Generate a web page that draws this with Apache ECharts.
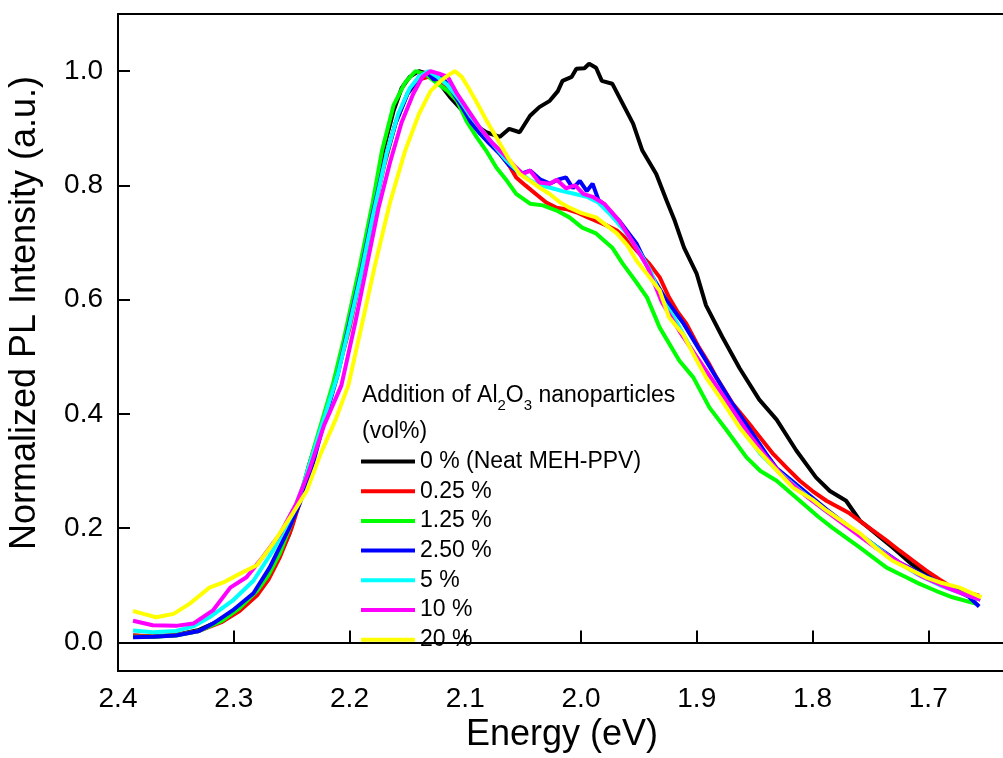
<!DOCTYPE html>
<html>
<head>
<meta charset="utf-8">
<script src="https://cdn.jsdelivr.net/npm/echarts@6/dist/echarts.min.js"></script>
<style>
html,body{margin:0;padding:0;background:#fff;}
#chart{width:1003px;height:758px;}
</style>
</head>
<body>
<div id="chart"></div>
<script>
// ---- data: [energy (eV), normalized PL intensity] ----
const seriesNames = ['0 % (Neat MEH-PPV)', '0.25 %', '1.25 %', '2.50 %', '5 %', '10 %', '20 %'];
const seriesColors = ['#000000', '#ff0000', '#00ff00', '#0000ff', '#00ffff', '#ff00ff', '#ffff00'];

const pl_0 = [[2.387,0.012],[2.37,0.010],[2.35,0.013],[2.33,0.022],[2.31,0.04],[2.30,0.055],[2.289,0.07],[2.28,0.088],[2.272,0.11],[2.262,0.145],[2.252,0.19],[2.243,0.25],[2.235,0.31],[2.225,0.375],[2.214,0.45],[2.205,0.52],[2.198,0.59],[2.19,0.66],[2.18,0.76],[2.171,0.86],[2.162,0.93],[2.155,0.97],[2.148,0.99],[2.14,1.0],[2.132,0.995],[2.122,0.978],[2.113,0.954],[2.102,0.93],[2.093,0.908],[2.082,0.893],[2.07,0.885],[2.062,0.899],[2.053,0.893],[2.044,0.922],[2.036,0.937],[2.027,0.948],[2.02,0.965],[2.016,0.983],[2.008,0.99],[2.004,1.004],[1.997,1.005],[1.993,1.013],[1.987,1.006],[1.982,0.983],[1.973,0.978],[1.964,0.943],[1.955,0.908],[1.947,0.861],[1.935,0.82],[1.926,0.773],[1.919,0.738],[1.911,0.691],[1.9,0.645],[1.892,0.59],[1.878,0.535],[1.863,0.48],[1.846,0.425],[1.831,0.39],[1.814,0.336],[1.797,0.289],[1.785,0.265],[1.771,0.248],[1.759,0.213],[1.745,0.19],[1.73,0.165],[1.715,0.138],[1.7,0.118],[1.685,0.1],[1.67,0.086],[1.655,0.075]];

const pl_025 = [[2.387,0.012],[2.37,0.011],[2.35,0.013],[2.33,0.02],[2.31,0.036],[2.295,0.055],[2.28,0.082],[2.27,0.11],[2.26,0.15],[2.25,0.2],[2.24,0.265],[2.228,0.345],[2.214,0.445],[2.2,0.55],[2.19,0.645],[2.18,0.745],[2.17,0.835],[2.16,0.91],[2.15,0.96],[2.14,0.985],[2.132,0.99],[2.125,0.985],[2.117,0.97],[2.108,0.95],[2.1,0.93],[2.09,0.905],[2.08,0.88],[2.07,0.855],[2.062,0.835],[2.056,0.814],[2.048,0.8],[2.039,0.785],[2.03,0.77],[2.021,0.761],[2.012,0.758],[2.004,0.753],[1.995,0.745],[1.987,0.738],[1.978,0.73],[1.969,0.721],[1.96,0.705],[1.952,0.686],[1.941,0.663],[1.932,0.639],[1.924,0.604],[1.917,0.58],[1.909,0.558],[1.898,0.516],[1.89,0.49],[1.883,0.464],[1.869,0.418],[1.852,0.376],[1.834,0.33],[1.822,0.305],[1.811,0.283],[1.8,0.265],[1.788,0.248],[1.768,0.226],[1.748,0.196],[1.737,0.18],[1.725,0.161],[1.713,0.143],[1.702,0.126],[1.69,0.11],[1.679,0.096],[1.667,0.088],[1.656,0.082]];

const pl_125 = [[2.387,0.01],[2.37,0.01],[2.35,0.012],[2.33,0.02],[2.31,0.038],[2.295,0.06],[2.28,0.09],[2.27,0.118],[2.26,0.157],[2.25,0.21],[2.24,0.275],[2.23,0.345],[2.214,0.455],[2.205,0.53],[2.191,0.66],[2.18,0.77],[2.172,0.86],[2.162,0.94],[2.152,0.98],[2.143,1.0],[2.135,0.995],[2.125,0.98],[2.115,0.965],[2.107,0.948],[2.099,0.913],[2.09,0.884],[2.082,0.861],[2.073,0.831],[2.064,0.808],[2.056,0.785],[2.044,0.768],[2.033,0.765],[2.021,0.756],[2.01,0.744],[1.999,0.726],[1.987,0.716],[1.973,0.691],[1.964,0.663],[1.952,0.63],[1.943,0.604],[1.932,0.551],[1.915,0.493],[1.903,0.464],[1.889,0.411],[1.874,0.371],[1.857,0.324],[1.845,0.3],[1.831,0.283],[1.811,0.248],[1.795,0.22],[1.783,0.201],[1.759,0.166],[1.736,0.131],[1.72,0.115],[1.708,0.103],[1.693,0.09],[1.679,0.079],[1.659,0.068]];

const pl_250 = [[2.387,0.009],[2.37,0.01],[2.35,0.012],[2.33,0.02],[2.318,0.033],[2.301,0.056],[2.283,0.086],[2.269,0.131],[2.252,0.201],[2.243,0.243],[2.232,0.31],[2.22,0.4],[2.21,0.47],[2.2,0.56],[2.19,0.65],[2.18,0.75],[2.17,0.84],[2.16,0.91],[2.15,0.96],[2.14,0.99],[2.133,0.998],[2.127,0.985],[2.12,0.99],[2.113,0.97],[2.105,0.945],[2.095,0.91],[2.087,0.89],[2.08,0.875],[2.07,0.855],[2.062,0.835],[2.052,0.82],[2.044,0.826],[2.035,0.81],[2.027,0.803],[2.02,0.81],[2.013,0.814],[2.007,0.795],[2.001,0.808],[1.995,0.79],[1.99,0.803],[1.985,0.775],[1.981,0.768],[1.967,0.738],[1.952,0.698],[1.938,0.639],[1.926,0.598],[1.912,0.56],[1.9,0.52],[1.885,0.47],[1.87,0.42],[1.855,0.375],[1.84,0.33],[1.831,0.305],[1.81,0.27],[1.788,0.233],[1.77,0.205],[1.745,0.168],[1.725,0.14],[1.702,0.116],[1.68,0.095],[1.665,0.08],[1.656,0.063]];

const pl_5 = [[2.387,0.021],[2.37,0.018],[2.35,0.02],[2.335,0.028],[2.321,0.044],[2.301,0.073],[2.283,0.108],[2.266,0.161],[2.249,0.226],[2.24,0.275],[2.23,0.34],[2.21,0.47],[2.2,0.555],[2.19,0.645],[2.18,0.745],[2.168,0.855],[2.158,0.925],[2.148,0.97],[2.14,0.99],[2.132,1.0],[2.124,0.99],[2.115,0.975],[2.105,0.95],[2.095,0.92],[2.085,0.895],[2.075,0.87],[2.065,0.845],[2.055,0.825],[2.045,0.81],[2.035,0.8],[2.025,0.795],[2.016,0.79],[2.005,0.785],[1.995,0.78],[1.985,0.77],[1.975,0.75],[1.962,0.72],[1.95,0.685],[1.94,0.65],[1.93,0.6],[1.92,0.57],[1.905,0.515],[1.89,0.465],[1.875,0.415],[1.86,0.37],[1.845,0.33],[1.83,0.3],[1.81,0.265],[1.79,0.232],[1.77,0.205],[1.75,0.175],[1.73,0.145],[1.71,0.12],[1.69,0.1],[1.67,0.085],[1.655,0.075]];

const pl_10 = [[2.387,0.038],[2.37,0.03],[2.35,0.029],[2.335,0.033],[2.318,0.056],[2.303,0.096],[2.289,0.114],[2.275,0.149],[2.26,0.19],[2.246,0.243],[2.235,0.3],[2.222,0.38],[2.207,0.45],[2.195,0.56],[2.185,0.66],[2.175,0.76],[2.165,0.84],[2.155,0.91],[2.145,0.96],[2.137,0.99],[2.13,1.0],[2.122,0.995],[2.115,0.99],[2.107,0.96],[2.097,0.93],[2.087,0.9],[2.077,0.875],[2.067,0.855],[2.058,0.835],[2.05,0.82],[2.044,0.826],[2.036,0.805],[2.027,0.803],[2.021,0.81],[2.013,0.795],[2.005,0.8],[1.998,0.785],[1.99,0.78],[1.98,0.768],[1.967,0.738],[1.955,0.7],[1.942,0.655],[1.93,0.595],[1.915,0.545],[1.9,0.5],[1.885,0.455],[1.87,0.41],[1.855,0.365],[1.84,0.325],[1.825,0.29],[1.805,0.255],[1.785,0.225],[1.765,0.195],[1.745,0.165],[1.725,0.14],[1.705,0.115],[1.685,0.097],[1.67,0.085],[1.655,0.075]];

const pl_20 = [[2.387,0.055],[2.378,0.05],[2.367,0.044],[2.352,0.05],[2.338,0.068],[2.321,0.096],[2.309,0.105],[2.295,0.12],[2.28,0.135],[2.266,0.173],[2.249,0.226],[2.237,0.265],[2.225,0.33],[2.212,0.39],[2.201,0.45],[2.19,0.55],[2.178,0.66],[2.165,0.77],[2.152,0.86],[2.14,0.925],[2.13,0.965],[2.12,0.985],[2.113,0.995],[2.109,1.0],[2.103,0.99],[2.097,0.97],[2.09,0.945],[2.082,0.915],[2.072,0.88],[2.062,0.845],[2.053,0.82],[2.044,0.808],[2.035,0.795],[2.027,0.785],[2.018,0.77],[2.01,0.761],[2.0,0.752],[1.987,0.744],[1.978,0.73],[1.969,0.716],[1.96,0.695],[1.952,0.668],[1.943,0.645],[1.932,0.616],[1.924,0.569],[1.912,0.54],[1.903,0.505],[1.892,0.464],[1.88,0.429],[1.863,0.376],[1.849,0.341],[1.835,0.31],[1.817,0.271],[1.8,0.25],[1.788,0.231],[1.773,0.21],[1.759,0.191],[1.745,0.165],[1.731,0.143],[1.715,0.127],[1.702,0.114],[1.688,0.104],[1.673,0.096],[1.654,0.079]];

const seriesData = [pl_0, pl_025, pl_125, pl_250, pl_5, pl_10, pl_20];
const yTickValues = [0, 0.2, 0.4, 0.6, 0.8, 1.0];
const xTitle = 'Energy (eV)';
const yTitle = 'Normalized PL Intensity (a.u.)';

const FONT = "'Liberation Sans', Arial, sans-serif";
const chart = echarts.init(document.getElementById('chart'), null, {renderer: 'canvas'});

const option = {
  backgroundColor: '#ffffff',
  animation: false,
  grid: {
    left: 118, top: 14, right: -41, bottom: 87,
    containLabel: false, outerBoundsMode: 'none',
    show: true, borderColor: '#000', borderWidth: 2, backgroundColor: 'transparent'
  },
  xAxis: {
    type: 'value', min: 1.6, max: 2.4, interval: 0.1, inverse: true,
    splitLine: {show: false},
    axisLine: {show: true, lineStyle: {color: '#000', width: 2}},
    axisTick: {show: true, inside: true, length: 12, lineStyle: {color: '#000', width: 2}},
    axisLabel: {
      color: '#000', fontSize: 28, fontFamily: FONT, margin: 14,
      formatter: v => v.toFixed(1)
    }
  },
  yAxis: {
    type: 'value', min: -0.05, max: 1.1,
    splitLine: {show: false},
    axisLine: {show: true, lineStyle: {color: '#000', width: 2}},
    axisTick: {show: true, inside: true, length: 12, lineStyle: {color: '#000', width: 2}, customValues: yTickValues},
    axisLabel: {
      color: '#000', fontSize: 28, fontFamily: FONT, margin: 15,
      customValues: yTickValues,
      formatter: v => Number(v).toFixed(1)
    }
  },
  legend: {
    orient: 'vertical', left: 361, top: 450, padding: 0,
    itemWidth: 54, itemHeight: 4, itemGap: 6.7, icon: 'rect',
    data: seriesNames,
    textStyle: {color: '#000', fontSize: 23, fontFamily: FONT, lineHeight: 22}
  },
  graphic: [
    {
      type: 'text', left: 362, top: 384,
      style: {
        text: '{n|Addition of Al}{s|2}{n|O}{s|3}{n| nanoparticles}',
        fill: '#000',
        rich: {
          n: {fontSize: 23, fontFamily: FONT, fill: '#000', verticalAlign: 'bottom', lineHeight: 26},
          s: {fontSize: 15, fontFamily: FONT, fill: '#000', verticalAlign: 'bottom', lineHeight: 20, padding: [0,0,-6,0]}
        }
      }
    },
    {
      type: 'text', left: 362, top: 420,
      style: {text: '(vol%)', fill: '#000', fontSize: 23, fontFamily: FONT}
    },
    {
      type: 'text', x: 562, y: 735,
      style: {text: xTitle, fill: '#000', fontSize: 36, fontFamily: FONT, align: 'center', verticalAlign: 'middle'}
    },
    {
      type: 'text', x: 25, y: 313, rotation: Math.PI / 2,
      style: {text: yTitle, fill: '#000', fontSize: 36, fontFamily: FONT, align: 'center', verticalAlign: 'middle'}
    }
  ],
  series: seriesData.map((d, i) => ({
    name: seriesNames[i],
    type: 'line',
    data: d,
    showSymbol: false,
    symbol: 'none',
    smooth: false,
    color: seriesColors[i],
    lineStyle: {color: seriesColors[i], width: 4},
    z: 2 + i
  }))
};
chart.setOption(option);
</script>
</body>
</html>
